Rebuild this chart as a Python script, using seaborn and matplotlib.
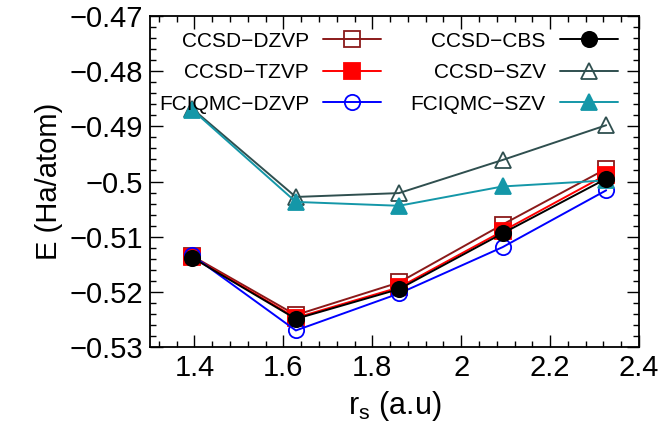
import matplotlib
matplotlib.use("Agg")
import matplotlib.pyplot as plt
import seaborn as sns
from matplotlib.ticker import MultipleLocator

rs = [1.395, 1.628, 1.86, 2.093, 2.326]

ccsd_dzvp = [-0.5135, -0.5242, -0.5183, -0.5078, -0.4977]
ccsd_tzvp = [-0.5137, -0.5247, -0.5192, -0.5090, -0.4988]
fciqmc_dzvp = [-0.5134, -0.5270, -0.5203, -0.5119, -0.5016]
ccsd_cbs = [-0.5138, -0.5249, -0.5195, -0.5094, -0.4995]
ccsd_szv = [-0.4868, -0.5028, -0.5021, -0.4961, -0.4898]
fciqmc_szv = [-0.4870, -0.5037, -0.5044, -0.5009, -0.4998]

sns.set_style("ticks")
plt.rcParams["font.family"] = ["Liberation Sans", "DejaVu Sans"]
plt.rcParams["text.color"] = "black"
plt.rcParams["axes.labelcolor"] = "black"
plt.rcParams["xtick.color"] = "black"
plt.rcParams["ytick.color"] = "black"

fig = plt.figure(figsize=(6.65, 4.36), dpi=100)
ax = fig.add_axes([0.2256, 0.2041, 0.7354, 0.7592])

# order matters: CBS drawn last so the black dots sit on top
series = [
    ("CCSD\u2212DZVP", ccsd_dzvp, "s", "#8b1a1a", False),
    ("CCSD\u2212TZVP", ccsd_tzvp, "s", "#ff0000", True),
    ("FCIQMC\u2212DZVP", fciqmc_dzvp, "o", "#0000ff", False),
    ("CCSD\u2212SZV", ccsd_szv, "^", "#2f4f4f", False),
    ("FCIQMC\u2212SZV", fciqmc_szv, "^", "#1497a8", True),
    ("CCSD\u2212CBS", ccsd_cbs, "o", "#000000", True),
]
for name, vals, mk, col, filled in series:
    sns.lineplot(x=rs, y=vals, ax=ax, color=col, lw=1.4, marker=mk,
                 markersize=11, markeredgewidth=1.3,
                 markerfacecolor=col if filled else "none",
                 markeredgecolor=col, label=name)
h, l = ax.get_legend_handles_labels()
handles = dict(zip(l, h))
order = ["CCSD\u2212DZVP", "CCSD\u2212TZVP", "FCIQMC\u2212DZVP",
         "CCSD\u2212CBS", "CCSD\u2212SZV", "FCIQMC\u2212SZV"]
ax.legend([handles[k] for k in order], order, ncol=2, frameon=False,
          markerfirst=False, fontsize=15, handlelength=2.8,
          handletextpad=0.67, columnspacing=1.4, labelspacing=0.6,
          loc="upper right", bbox_to_anchor=(0.957, 0.953),
          borderaxespad=0, borderpad=0)

ax.set_xlim(1.3, 2.4)
ax.set_ylim(-0.53, -0.47)
ax.xaxis.set_minor_locator(MultipleLocator(0.04))
ax.yaxis.set_minor_locator(MultipleLocator(0.002))
ax.set_xticks([1.4, 1.6, 1.8, 2.0, 2.2, 2.4])
ax.set_xticklabels(["1.4", "1.6", "1.8", "2", "2.2", "2.4"])
ax.set_yticks([-0.53, -0.52, -0.51, -0.5, -0.49, -0.48, -0.47])
ax.set_yticklabels(["\u22120.53", "\u22120.52", "\u22120.51", "\u22120.5",
                    "\u22120.49", "\u22120.48", "\u22120.47"])
ax.tick_params(which="both", direction="in", top=True, right=True,
               labelsize=21, width=1.0, color="black", labelcolor="black")
ax.tick_params(which="major", length=9, pad=5)
ax.tick_params(which="minor", length=4.5)
for sp in ax.spines.values():
    sp.set_linewidth(1.3)
    sp.set_color("black")

ax.set_xlabel("r$_\\mathregular{s}$ (a.u)", fontsize=22, labelpad=5)
ax.set_ylabel("E (Ha/atom)", fontsize=21, labelpad=5)

fig.savefig("out.png", dpi=100)
